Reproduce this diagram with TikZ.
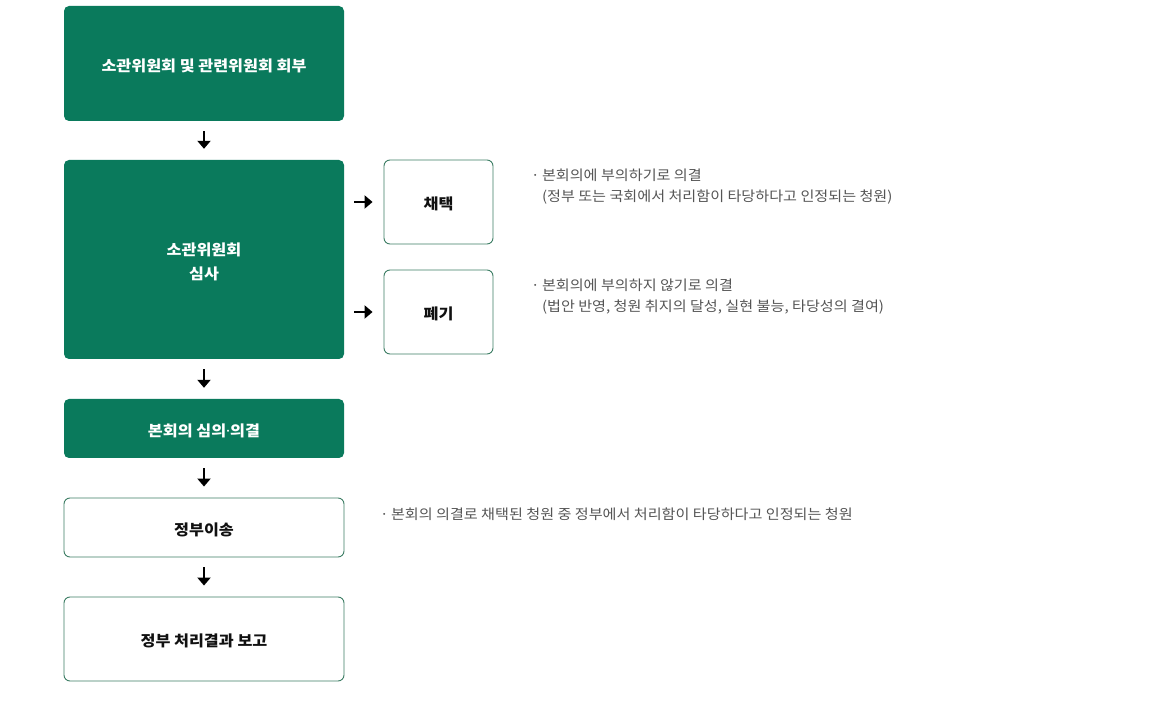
\documentclass[tikz,border=0pt]{standalone}
\usepackage{fontspec}
\setmainfont{Noto Sans CJK KR}[FakeStretch=1.08]
\newfontfamily\dotfont{Noto Sans}
\usetikzlibrary{arrows.meta}
\newcommand{\lowtext}[1]{\raisebox{-2pt}[\height][\depth]{#1}}
\definecolor{nagreen}{RGB}{10,122,92}
\definecolor{naborder}{RGB}{60,125,100}
\definecolor{notegray}{RGB}{85,85,85}
\definecolor{labelblack}{RGB}{17,17,17}
\tikzset{
  greenbox/.style={draw=none,fill=nagreen,rounded corners=5pt,minimum width=280pt,
    text=white,font=\fontsize{15}{24}\selectfont\bfseries,align=center,inner sep=0pt},
  whitebox/.style={draw=naborder,line width=0.9pt,fill=white,rounded corners=6pt,
    text=labelblack,font=\fontsize{15}{24}\selectfont\bfseries,align=center,inner sep=0pt},
  flowarrow/.style={line width=2.2pt,-{Triangle[length=8pt,width=13pt]},black},
  notetext/.style={text=notegray,font=\fontsize{14}{21}\selectfont,align=left,inner sep=0pt,anchor=base west}
}
\begin{document}
\begin{tikzpicture}[x=1pt,y=-1pt]
\useasboundingbox (0,0) rectangle (1168,708);
\node[greenbox,minimum height=115pt] (b1) at (204,63.5) {\lowtext{소관위원회 및 관련위원회 회부}};
\node[greenbox,minimum height=199pt] (b2) at (204,259.5) {\lowtext{소관위원회}\\\lowtext{심사}};
\node[whitebox,minimum width=109pt,minimum height=84pt] (cy) at (438.5,202) {\lowtext{채택}};
\node[whitebox,minimum width=109pt,minimum height=84pt] (pg) at (438.5,312) {\lowtext{폐기}};
\node[greenbox,minimum height=59pt] (b3) at (204,428.5) {\lowtext{본회의 심의{\dotfont\bfseries ·}의결}};
\node[whitebox,minimum width=280pt,minimum height=59pt] (b4) at (204,527.5) {\lowtext{정부이송}};
\node[whitebox,minimum width=280pt,minimum height=84pt] (b5) at (204,639) {\lowtext{정부 처리결과 보고}};

\draw[flowarrow,shorten <=10pt,shorten >=11pt] (b1.south) -- (b2.north);
\draw[flowarrow,shorten <=10pt,shorten >=11pt] (b2.south) -- (b3.north);
\draw[flowarrow,shorten <=10pt,shorten >=11pt] (b3.south) -- (b4.north);
\draw[flowarrow,shorten <=10pt,shorten >=11pt] (b4.south) -- (b5.north);
\draw[flowarrow,shorten <=10pt,shorten >=11pt] (b2.east |- cy.west) -- (cy.west);
\draw[flowarrow,shorten <=10pt,shorten >=11pt] (b2.east |- pg.west) -- (pg.west);

\node[notetext] (n1) at (531,202) {·\,본회의에 부의하기로 의결\\\hphantom{·\,}(정부 또는 국회에서 처리함이 타당하다고 인정되는 청원)};
\node[notetext] (n2) at (531,312) {·\,본회의에 부의하지 않기로 의결\\\hphantom{·\,}(법안 반영, 청원 취지의 달성, 실현 불능, 타당성의 결여)};
\node[notetext] (n3) at (380,519) {·\,본회의 의결로 채택된 청원 중 정부에서 처리함이 타당하다고 인정되는 청원};
\end{tikzpicture}
\end{document}
